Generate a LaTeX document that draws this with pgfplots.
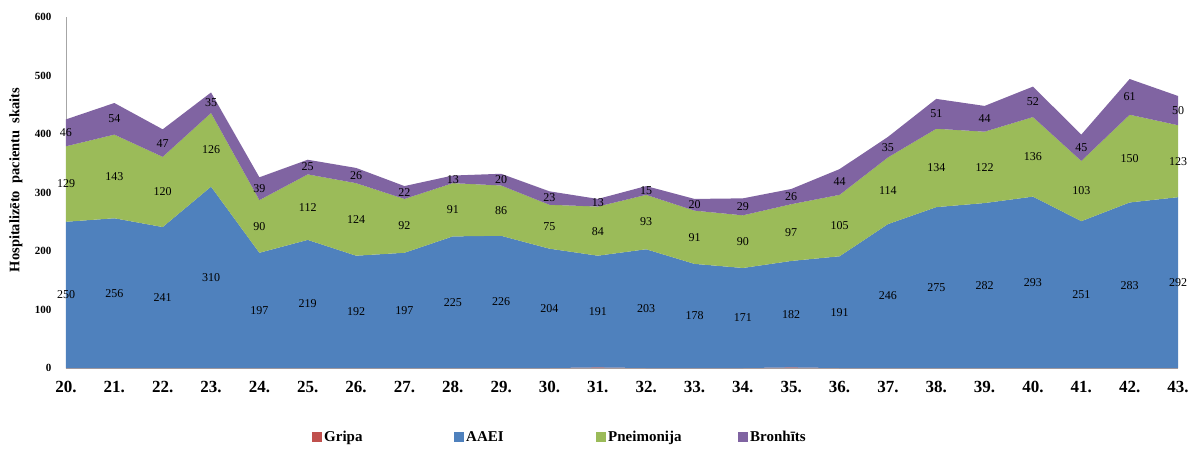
\documentclass[border=0pt]{standalone}
\usepackage{pgfplots}
\pgfplotsset{compat=1.18}
\usepackage{pgfplotstable}
\usepackage{fontspec}
\setmainfont{Liberation Serif}

\definecolor{cGripa}{HTML}{C0504D}
\definecolor{cAAEI}{HTML}{4F81BD}
\definecolor{cPneim}{HTML}{9BBB59}
\definecolor{cBronh}{HTML}{8064A2}

% weeks 20..43 at x = 0..23
\pgfplotstableread{
x g a p b
0 0 250 129 46
1 0 256 143 54
2 0 241 120 47
3 0 310 126 35
4 0 197 90 39
5 0 219 112 25
6 0 192 124 26
7 0 197 92 22
8 0 225 91 13
9 0 226 86 20
10 0 204 75 23
11 1 191 84 13
12 0 203 93 15
13 0 178 91 20
14 0 171 90 29
15 1 182 97 26
16 0 191 105 44
17 0 246 114 35
18 0 275 134 51
19 0 282 122 44
20 0 293 136 52
21 0 251 103 45
22 0 283 150 61
23 0 292 123 50
}\weeks

\begin{document}
\begin{tikzpicture}
\begin{axis}[
  at={(0,0)}, anchor=south west,
  scale only axis, width=1112pt, height=351pt,
  xmin=0, xmax=23, ymin=0, ymax=600,
  axis lines=left,
  axis line style={-, draw=gray!70, line width=0.8pt},
  major tick length=0pt,
  xtick={0,...,23},
  xticklabels={20.,21.,22.,23.,24.,25.,26.,27.,28.,29.,30.,31.,32.,33.,34.,35.,36.,37.,38.,39.,40.,41.,42.,43.},
  xticklabel style={font=\fontsize{17}{19}\selectfont\bfseries, yshift=-10pt},
  ytick={0,100,...,600},
  yticklabel style={font=\fontsize{11}{13}\selectfont\bfseries, xshift=-11pt},
  /pgf/number format/assume math mode=true,
  ylabel={Hospitalizēto\ \ pacientu\ \ skaits},
  every axis y label/.style={at={(axis description cs:-0.045,0.536)}, rotate=90, anchor=center,
    font=\fontsize{14.5}{16}\selectfont\bfseries},
  legend columns=4,
  legend image code/.code={\fill[#1] (0pt,-5pt) rectangle (10pt,5pt);},
  legend style={at={(axis description cs:0.2212,-0.1966)}, anchor=west, draw=none,
    inner sep=0pt, font=\fontsize{15}{17}\selectfont\bfseries,
    /tikz/every even column/.append style={column sep=-2pt}},
  every node near coord/.append style={anchor=center, font=\fontsize{12}{14}\selectfont, text=black},
  clip=false,
]
\addplot[fill=cGripa, draw=none, stack plots=y]
  table[x=x, y=g] {\weeks} \closedcycle;
\addlegendentry{\makebox[130pt][l]{Gripa}}
\addplot[fill=cAAEI, draw=none, stack plots=y]
  table[x=x, y=a] {\weeks} \closedcycle;
\addlegendentry{\makebox[130pt][l]{AAEI}}
\addplot[fill=cPneim, draw=none, stack plots=y]
  table[x=x, y=p] {\weeks} \closedcycle;
\addlegendentry{\makebox[130pt][l]{Pneimonija}}
\addplot[fill=cBronh, draw=none, stack plots=y]
  table[x=x, y=b] {\weeks} \closedcycle;
\addlegendentry{Bronhīts}

% data labels at the middle of each layer
\addplot[draw=none, mark=none, stack plots=false, forget plot, nodes near coords, point meta=explicit]
  table[x=x, y expr=\thisrow{g}+\thisrow{a}/2, meta=a] {\weeks};
\addplot[draw=none, mark=none, stack plots=false, forget plot, nodes near coords, point meta=explicit]
  table[x=x, y expr=\thisrow{g}+\thisrow{a}+\thisrow{p}/2, meta=p] {\weeks};
\addplot[draw=none, mark=none, stack plots=false, forget plot, nodes near coords, point meta=explicit]
  table[x=x, y expr=\thisrow{g}+\thisrow{a}+\thisrow{p}+\thisrow{b}/2, meta=b] {\weeks};
\end{axis}
\pgfresetboundingbox
\useasboundingbox (-66pt,-80pt) rectangle (1135pt,368pt);
\end{tikzpicture}
\end{document}
